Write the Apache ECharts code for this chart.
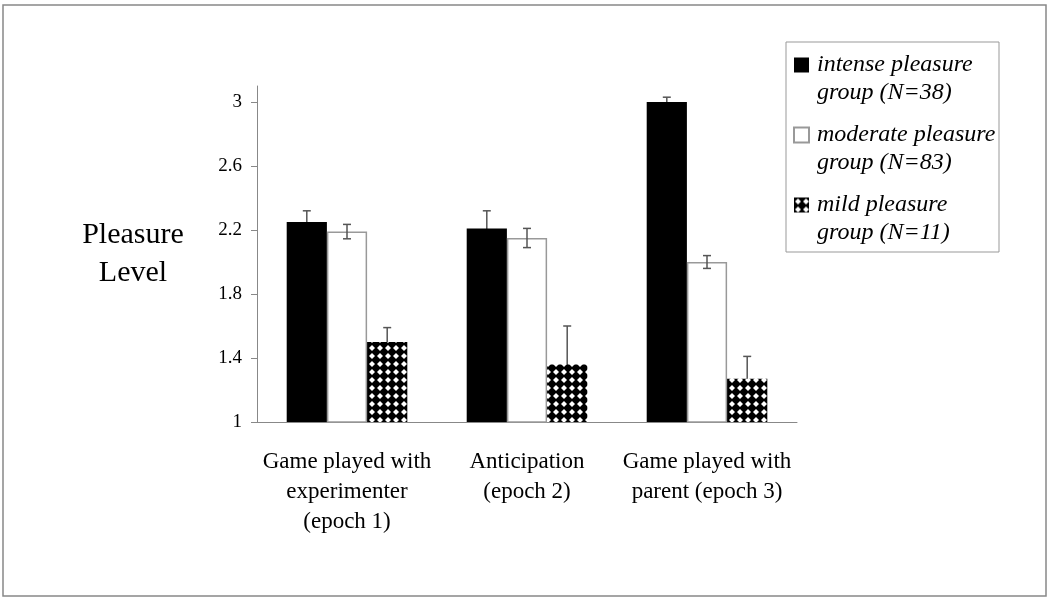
<!DOCTYPE html>
<html>
<head>
<meta charset="utf-8">
<script src="https://cdn.jsdelivr.net/npm/echarts@6/dist/echarts.min.js"></script>
<style>
html,body{margin:0;padding:0;background:#fff;}
#chart{width:1050px;height:600px;}
</style>
</head>
<body>
<div id="chart"></div>
<script>
const categories = ['Game played with\nexperimenter\n(epoch 1)', 'Anticipation\n(epoch 2)', 'Game played with\nparent (epoch 3)'];
const seriesNames = ['intense pleasure group (N=38)', 'moderate pleasure group (N=83)', 'mild pleasure group (N=11)'];
const legendLabels = ['intense pleasure\ngroup (N=38)', 'moderate pleasure\ngroup (N=83)', 'mild pleasure\ngroup (N=11)'];
const intense = [2.25, 2.21, 3.0];
const intenseErr = [0.07, 0.11, 0.03];
const moderate = [2.19, 2.15, 2.0];
const moderateErr = [0.045, 0.06, 0.04];
const mild = [1.5, 1.36, 1.27];
const mildErr = [0.09, 0.24, 0.14];
const yTicks = [1, 1.4, 1.8, 2.2, 2.6, 3];
const yName = 'Pleasure\nLevel';

const SERIF = '"Liberation Serif", "Times New Roman", serif';

// diamond pattern
const pc = document.createElement('canvas');
pc.width = 8; pc.height = 8;
const pctx = pc.getContext('2d');
pctx.fillStyle = '#000';
pctx.fillRect(0, 0, 8, 8);
pctx.fillStyle = '#fff';
pctx.beginPath();
pctx.moveTo(4, 1.0); pctx.lineTo(7.0, 4); pctx.lineTo(4, 7.0); pctx.lineTo(1.0, 4);
pctx.closePath();
pctx.fill();

const GAP = 0.33;
function errSeries(vals, errs, k, z) {
  return {
    type: 'custom',
    z: z,
    silent: true,
    data: vals.map((v, i) => [i, v, errs[i]]),
    encode: { x: 0, y: 1 },
    renderItem: function (params, api) {
      const i = api.value(0), v = api.value(1), e = api.value(2);
      const band = api.size([1, 0])[0];
      const barW = band * (1 - GAP) / 3;
      const c = api.coord([i, v]);
      const x = c[0] + (k - 1) * barW;
      const yHi = api.coord([i, v + e])[1];
      const yLo = api.coord([i, v - e])[1];
      const hw = 4;
      const style = { stroke: '#555', lineWidth: 1.5, fill: null };
      return {
        type: 'group',
        children: [
          { type: 'line', shape: { x1: x, y1: yHi, x2: x, y2: yLo }, style: style },
          { type: 'line', shape: { x1: x - hw, y1: yHi, x2: x + hw, y2: yHi }, style: style },
          { type: 'line', shape: { x1: x - hw, y1: yLo, x2: x + hw, y2: yLo }, style: style }
        ]
      };
    }
  };
}

const chart = echarts.init(document.getElementById('chart'));
chart.setOption({
  animation: false,
  backgroundColor: '#fff',
  grid: { left: 257, right: 253, top: 86, bottom: 178 },
  graphic: [
    { type: 'rect', shape: { x: 3, y: 5, width: 1043, height: 591 }, style: { fill: null, stroke: '#888', lineWidth: 1.5 }, z: 0 },
    { type: 'rect', shape: { x: 786, y: 42, width: 213, height: 210 }, style: { fill: '#fff', stroke: '#999', lineWidth: 1 }, z: 0 }
  ],
  legend: {
    data: seriesNames,
    orient: 'vertical',
    left: 793,
    top: 23,
    padding: 0,
    itemWidth: 15,
    itemHeight: 15,
    itemGap: -14,
    icon: 'rect',
    formatter: function (name) { return '\n' + legendLabels[seriesNames.indexOf(name)]; },
    textStyle: { fontFamily: SERIF, fontStyle: 'italic', fontSize: 24, lineHeight: 28, color: '#000', padding: [0, 0, 0, 3] },
    z: 5
  },
  xAxis: {
    type: 'category',
    data: categories,
    axisLine: { lineStyle: { color: '#888', width: 1 } },
    axisTick: { show: false },
    axisLabel: { fontFamily: SERIF, fontSize: 23, lineHeight: 30, color: '#000', margin: 25, interval: 0 }
  },
  yAxis: {
    type: 'value',
    min: 1,
    max: 3.1,
    name: yName,
    nameLocation: 'middle',
    nameRotate: 0,
    nameGap: 124,
    nameTextStyle: { fontFamily: SERIF, fontSize: 30, lineHeight: 38, color: '#000', align: 'center', verticalAlign: 'middle' },
    splitLine: { show: false },
    axisLine: { show: true, lineStyle: { color: '#888', width: 1 } },
    axisTick: { show: true, length: 6, lineStyle: { color: '#888' }, customValues: yTicks },
    axisLabel: { fontFamily: SERIF, fontSize: 19, color: '#000', margin: 15, customValues: yTicks, formatter: v => String(v) }
  },
  series: [
    { name: seriesNames[0], type: 'bar', data: intense, barGap: '0%', barCategoryGap: (GAP * 100) + '%', z: 2,
      itemStyle: { color: '#000' } },
    { name: seriesNames[1], type: 'bar', data: moderate, barGap: '0%', barCategoryGap: (GAP * 100) + '%', z: 2,
      itemStyle: { color: '#fff', borderColor: '#999', borderWidth: 1.5 } },
    { name: seriesNames[2], type: 'bar', data: mild, barGap: '0%', barCategoryGap: (GAP * 100) + '%', z: 2,
      itemStyle: { color: { image: pc, repeat: 'repeat' } } },
    errSeries(intense, intenseErr, 0, 1),
    errSeries(moderate, moderateErr, 1, 3),
    errSeries(mild, mildErr, 2, 1)
  ]
});
</script>
</body>
</html>
